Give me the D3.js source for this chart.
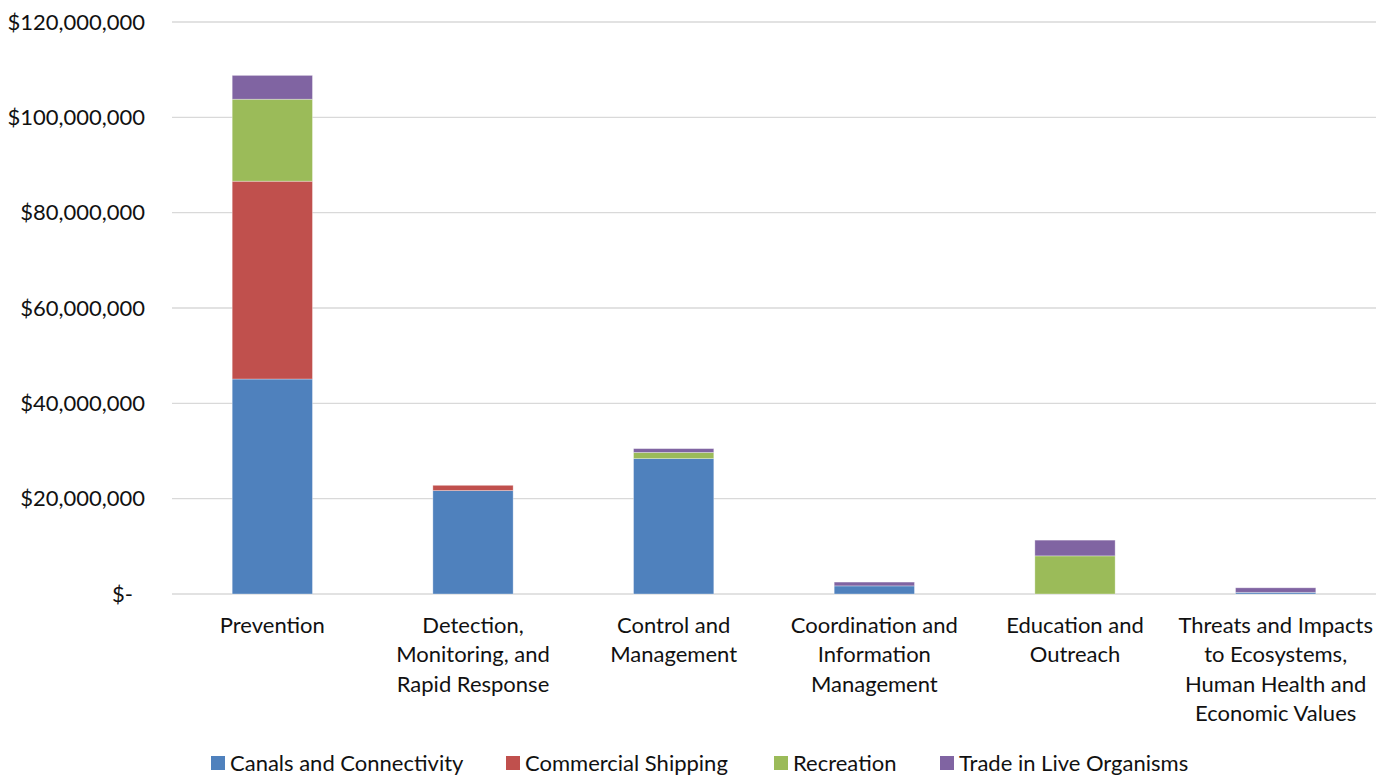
<!DOCTYPE html>
<html>
<head>
<meta charset="utf-8">
<script src="https://cdn.jsdelivr.net/npm/d3@7"></script>
<style>
  body { margin: 0; background: #fff; }
  text { font-family: Lato, "Open Sans", sans-serif; fill: #111; }
</style>
</head>
<body>
<div id="chart"></div>
<script>
// categories (lines of each x label)
var categories = [
    ["Prevention"],
    ["Detection,", "Monitoring, and", "Rapid Response"],
    ["Control and", "Management"],
    ["Coordination and", "Information", "Management"],
    ["Education and", "Outreach"],
    ["Threats and Impacts", "to Ecosystems,", "Human Health and", "Economic Values"]
];
var series = ["Canals and Connectivity", "Commercial Shipping", "Recreation", "Trade in Live Organisms"];
var colors = ["#4f81bd", "#c0504d", "#9bbb59", "#8064a2"];

// values per series, in dollars, one per category
var canals     = [45100000, 21700000, 28400000, 1700000, 0, 350000];
var shipping   = [41500000, 1100000, 0, 0, 0, 0];
var recreation = [17200000, 0, 1300000, 0, 8000000, 0];
var trade      = [5000000, 0, 800000, 800000, 3300000, 950000];

var yTicks = [0, 20000000, 40000000, 60000000, 80000000, 100000000, 120000000];

var margin = {top: 22, left: 172, right: 13, bottom: 184},
    totalWidth = 1389,
    totalHeight = 778,
    width = totalWidth - margin.left - margin.right,
    height = totalHeight - margin.top - margin.bottom;

var svg = d3.select("#chart").append("svg")
    .attr("width", totalWidth)
    .attr("height", totalHeight);
var g = svg.append("g")
    .attr("transform", "translate(" + margin.left + "," + margin.top + ")");

var table = categories.map(function(c, i) {
    return {key: i, canals: canals[i], shipping: shipping[i], recreation: recreation[i], trade: trade[i]};
});
var keys = ["canals", "shipping", "recreation", "trade"];
var stacked = d3.stack().keys(keys)(table);

var x = d3.scaleBand()
    .domain(d3.range(categories.length))
    .range([0, width])
    .paddingInner(0.6)
    .paddingOuter(0.3);
var y = d3.scaleLinear()
    .domain([0, 120000000])
    .range([height, 0]);

// gridlines
g.append("g").selectAll("line")
    .data(yTicks)
    .enter().append("line")
    .attr("x1", 0).attr("x2", width)
    .attr("y1", function(d) { return y(d); })
    .attr("y2", function(d) { return y(d); })
    .attr("stroke", "#d9d9d9")
    .attr("stroke-width", 1.3);

var fmt = d3.format(",");
var yAxis = g.append("g")
    .call(d3.axisLeft(y).tickValues(yTicks)
        .tickFormat(function(d) { return d === 0 ? "$-" : "$" + fmt(d); })
        .tickSize(0).tickPadding(27));
yAxis.select(".domain").remove();
yAxis.selectAll("text")
    .style("font-size", "22px")
    .attr("fill", "#111")
    .attr("x", function(d) { return d === 0 ? -39 : -27; });

// bars
g.append("g").selectAll("g")
    .data(stacked)
    .enter().append("g")
    .attr("fill", function(d, i) { return colors[i]; })
    .selectAll("rect")
    .data(function(d) { return d; })
    .enter().append("rect")
    .filter(function(d) { return d[1] > d[0]; })
    .attr("x", function(d) { return x(d.data.key); })
    .attr("y", function(d) { return y(d[1]); })
    .attr("width", x.bandwidth())
    .attr("height", function(d) { return y(d[0]) - y(d[1]); })
    .attr("stroke", "#ffffff")
    .attr("stroke-opacity", 0.4)
    .attr("stroke-width", 0.8);

// x labels
var xl = g.append("g").selectAll("text")
    .data(categories)
    .enter().append("text")
    .attr("x", function(d, i) { return x(i) + x.bandwidth() / 2; })
    .attr("y", height + 39)
    .attr("text-anchor", "middle")
    .style("font-size", "22px");
xl.selectAll("tspan")
    .data(function(d) { return d; })
    .enter().append("tspan")
    .attr("x", function() { return d3.select(this.parentNode).attr("x"); })
    .attr("dy", function(d, i) { return i === 0 ? 0 : 29.3; })
    .text(function(d) { return d; });

// legend
var legendX = [211, 506, 774, 940];
var legend = svg.append("g").selectAll("g")
    .data(series)
    .enter().append("g")
    .attr("transform", function(d, i) { return "translate(" + legendX[i] + ",756)"; });
legend.append("rect")
    .attr("width", 14).attr("height", 14)
    .attr("fill", function(d, i) { return colors[i]; });
legend.append("text")
    .attr("x", 19).attr("y", 15)
    .style("font-size", "22px")
    .text(function(d) { return d; });
</script>
</body>
</html>
